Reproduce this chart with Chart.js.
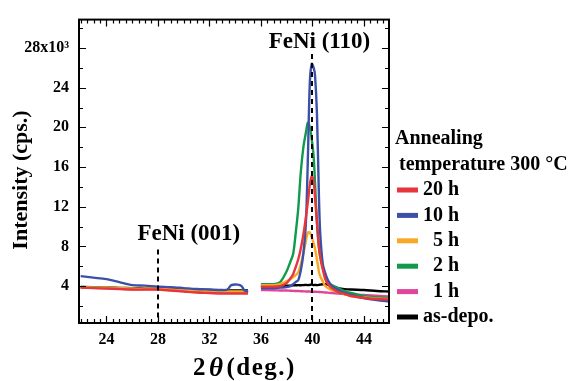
<!DOCTYPE html>
<html>
<head>
<meta charset="utf-8">
<script src="https://cdn.jsdelivr.net/npm/chart.js@4/dist/chart.umd.min.js"></script>
<style>
  html, body { margin: 0; padding: 0; background: #fff; }
  #wrap { width: 580px; height: 381px; position: relative; }
</style>
</head>
<body>
<div id="wrap"><canvas id="xrdChart"></canvas></div>
<script>
// XRD patterns of FeNi films, annealed at 300 C (intensity in 10^3 cps)

// 2theta positions (deg.), null marks the gap in the scan
const theta = [22, 23, 24, 25, 26, 27, 28, 29, 30, 31, 32, 33, 33.4, 33.7, 34.2, 34.5, 34.7, 35, 35.5,
  36, 37, 37.5, 38, 38.3, 38.5, 38.7, 38.9, 39.1, 39.3, 39.5, 39.65, 39.8, 39.95, 40.1, 40.2, 40.35,
  40.5, 40.6, 40.8, 41.0, 41.2, 41.5, 42, 42.5, 43, 44, 45, 46];

const h20 = [3.85, 3.8, 3.75, 3.7, 3.65, 3.65, 3.65, 3.55, 3.45, 3.35, 3.3, 3.25, 3.25, 3.25, 3.25, 3.25, 3.25, 3.25, null,
  3.95, 3.95, 4.0, 4.3, 4.8, 5.2, 5.9, 6.7, 7.8, 9.2, 11, 12.5, 14.2, 15.1, 14.5, 13, 10.5,
  8, 7, 5.7, 4.7, 4.2, 3.8, 3.4, 3.2, 3.0, 2.8, 2.7, 2.65];
const h10 = [5.0, 4.85, 4.7, 4.4, 4.1, 4.05, 3.95, 3.9, 3.8, 3.7, 3.65, 3.6, 3.65, 4.1, 4.15, 4.0, 3.6, 3.4, null,
  3.8, 3.8, 3.85, 3.9, 4.0, 4.2, 4.4, 4.6, 5.6, 7.3, 10.5, 17, 24.5, 26.4, 26, 25.3, 21.5,
  13.4, 9.5, 6.3, 5.3, 4.6, 4.0, 3.6, 3.3, 3.1, 2.8, 2.6, 2.45];
const h5 = [3.9, 3.85, 3.85, 3.8, 3.75, 3.75, 3.75, 3.65, 3.6, 3.55, 3.5, 3.45, 3.45, 3.45, 3.45, 3.45, 3.45, 3.45, null,
  4.1, 4.1, 4.2, 4.5, 4.7, 4.9, 5.1, 5.4, 6.2, 7.3, 8.6, 9.4, 9.4, 8.9, 8.3, 7.8, 6.7,
  5.5, 5.0, 4.5, 4.0, 3.8, 3.6, 3.4, 3.2, 3.0, 2.85, 2.75, 2.7];
const h2 = [3.95, 3.9, 3.85, 3.8, 3.7, 3.7, 3.7, 3.6, 3.55, 3.5, 3.45, 3.4, 3.4, 3.4, 3.4, 3.4, 3.4, 3.4, null,
  4.2, 4.2, 4.4, 5.5, 6.5, 7.2, 9.3, 11.8, 15.5, 18, 19.5, 20.5, 20, 18.8, 17, 14.5, 10.5,
  8.0, 7.0, 5.9, 5.1, 4.5, 4.1, 3.8, 3.5, 3.3, 3.0, 2.85, 2.78];
const h1 = [3.85, 3.82, 3.8, 3.75, 3.7, 3.72, 3.75, 3.65, 3.55, 3.45, 3.4, 3.35, 3.35, 3.35, 3.35, 3.35, 3.35, 3.35, null,
  3.6, 3.58, 3.56, 3.55, 3.53, 3.52, 3.5, 3.5, 3.48, 3.47, 3.46, 3.45, 3.45, 3.44, 3.43, 3.43, 3.42,
  3.41, 3.4, 3.38, 3.36, 3.34, 3.3, 3.25, 3.2, 3.15, 3.1, 3.02, 2.95];
const asDepo = [3.9, 3.88, 3.85, 3.82, 3.8, 3.8, 3.8, 3.75, 3.7, 3.65, 3.6, 3.55, 3.55, 3.55, 3.55, 3.55, 3.55, 3.55, null,
  4.0, 4.0, 4.02, 4.05, 4.05, 4.08, 4.08, 4.1, 4.08, 4.1, 4.12, 4.1, 4.12, 4.15, 4.1, 4.12, 4.1,
  4.12, 4.15, 4.18, 4.2, 4.15, 4.0, 3.8, 3.7, 3.65, 3.6, 3.5, 3.45];

const seriesLabels = ['20 h', '10 h', '5 h', '2 h', '1 h', 'as-depo.'];
const seriesColors = ['#e8353b', '#3c50a8', '#f9a825', '#129a4b', '#e0449b', '#000000'];
const seriesValues = [h20, h10, h5, h2, h1, asDepo];

// axis ticks
const xTicks = [24, 28, 32, 36, 40, 44];
const yTicks = [4, 8, 12, 16, 20, 24, 28];

// peak markers: position, top of dashed line, label and label centre
const peakTheta = [28, 40];
const peakLineTop = [7.7, 27.4];
const peakNames = ['FeNi (001)', 'FeNi (110)'];
const peakLabelX = [30.4, 40.55];
const peakLabelY = [9.3, 28.7];

const FONT = "'Liberation Serif', 'Times New Roman', serif";

// Build datasets, 20 h drawn on top
function buildDatasets() {
  return seriesValues.map((vals, i) => ({
    label: seriesLabels[i],
    data: theta.map((t, j) => ({ x: t, y: vals[j] })),
    borderColor: seriesColors[i],
    backgroundColor: seriesColors[i],
    borderWidth: 2.4,
    pointRadius: 0,
    tension: 0.3,
    spanGaps: false,
    order: i
  }));
}

// Frame, inward ticks, peak markers, titles and legend
const decorPlugin = {
  id: 'decor',
  afterDatasetsDraw(chart) {
    const ctx = chart.ctx;
    const a = chart.chartArea;
    const xs = chart.scales.x;
    const ys = chart.scales.y;
    ctx.save();

    // dashed peak lines
    ctx.strokeStyle = '#000';
    ctx.lineWidth = 2;
    ctx.setLineDash([5, 4]);
    peakTheta.forEach((p, i) => {
      const px = Math.round(xs.getPixelForValue(p));
      ctx.beginPath();
      ctx.moveTo(px, ys.getPixelForValue(peakLineTop[i]));
      ctx.lineTo(px, a.bottom);
      ctx.stroke();
    });
    ctx.setLineDash([]);

    // peak labels with white box
    ctx.font = 'bold 23px ' + FONT;
    ctx.textAlign = 'center';
    ctx.textBaseline = 'middle';
    peakNames.forEach((name, i) => {
      const cx = xs.getPixelForValue(peakLabelX[i]);
      const cy = ys.getPixelForValue(peakLabelY[i]);
      const w = ctx.measureText(name).width;
      ctx.fillStyle = '#fff';
      ctx.fillRect(cx - w / 2 - 2, cy - 12, w + 4, 24);
      ctx.fillStyle = '#000';
      ctx.fillText(name, cx, cy + 1);
    });

    // frame
    ctx.lineWidth = 2;
    ctx.strokeRect(a.left, a.top, a.right - a.left, a.bottom - a.top);

    // inward ticks on x (every 0.5 deg) and y (every 2k)
    ctx.lineWidth = 1.2;
    ctx.beginPath();
    for (let v = 22; v <= 45.9; v += 0.5) {
      const px = Math.round(xs.getPixelForValue(v)) + 0.5;
      const len = v % 4 === 0 ? 7 : 4;
      ctx.moveTo(px, a.bottom); ctx.lineTo(px, a.bottom - len);
      ctx.moveTo(px, a.top); ctx.lineTo(px, a.top + len);
    }
    for (let v = 2; v <= 30; v += 2) {
      const py = Math.round(ys.getPixelForValue(v)) + 0.5;
      const len = v % 4 === 0 ? 7 : 4;
      ctx.moveTo(a.left, py); ctx.lineTo(a.left + len, py);
      ctx.moveTo(a.right, py); ctx.lineTo(a.right - len, py);
    }
    ctx.stroke();
    ctx.restore();
  },
  afterDraw(chart) {
    const ctx = chart.ctx;
    const a = chart.chartArea;
    ctx.save();
    ctx.fillStyle = '#000';
    ctx.textBaseline = 'middle';

    // y title
    ctx.font = 'bold 22px ' + FONT;
    ctx.translate(21, 180);
    ctx.rotate(-Math.PI / 2);
    ctx.textAlign = 'center';
    ctx.fillText('Intensity (cps.)', 0, 0);
    ctx.setTransform(1, 0, 0, 1, 0, 0);

    // x title with italic theta
    ctx.textAlign = 'left';
    ctx.letterSpacing = '1.5px';
    const parts = [['bold 25px ' + FONT, '2'], ['bold italic 27px ' + FONT, '\u03B8'], ['bold 25px ' + FONT, '(deg.)']];
    let x = 193;
    parts.forEach(p => {
      ctx.font = p[0];
      ctx.fillText(p[1], x, 369);
      x += ctx.measureText(p[1]).width + 2;
    });
    ctx.letterSpacing = '0px';

    // legend
    ctx.font = 'bold 20px ' + FONT;
    ctx.fillText('Annealing', 395, 139);
    ctx.fillText('temperature 300 \u00B0C', 399, 165);
    const digitW = ctx.measureText('0').width;
    seriesLabels.forEach((lab, i) => {
      const y = 190 + i * 25.4;
      ctx.fillStyle = seriesColors[i];
      ctx.fillRect(397, y - 2.5, 21, 5);
      ctx.fillStyle = '#000';
      const off = /^\d h/.test(lab) ? digitW : 0;
      ctx.fillText(lab, 423 + off, y);
    });
    ctx.restore();
  }
};

function initChart() {
  const ctx = document.getElementById('xrdChart').getContext('2d');
  new Chart(ctx, {
    type: 'line',
    data: { datasets: buildDatasets() },
    plugins: [decorPlugin],
    options: {
      responsive: true,
      maintainAspectRatio: false,
      animation: false,
      layout: { padding: { left: 0, top: 13, right: 191, bottom: 0 } },
      plugins: { legend: { display: false }, tooltip: { enabled: false } },
      scales: {
        x: {
          type: 'linear',
          min: 21.87,
          max: 45.95,
          afterBuildTicks: s => { s.ticks = xTicks.map(v => ({ value: v })); },
          afterFit: s => { s.height = 58; },
          grid: { display: false, drawTicks: false },
          border: { display: false },
          ticks: { color: '#000', padding: 7, font: { family: FONT, size: 16, weight: 'bold' } }
        },
        y: {
          min: 0.28,
          max: 30.86,
          afterBuildTicks: s => { s.ticks = yTicks.map(v => ({ value: v })); },
          afterFit: s => { s.width = 79; },
          grid: { display: false, drawTicks: false },
          border: { display: false },
          ticks: {
            color: '#000',
            padding: 10,
            font: { family: FONT, size: 16, weight: 'bold' },
            callback: v => (v === 28 ? '28x10\u00B3' : String(v))
          }
        }
      }
    }
  });
}

document.addEventListener('DOMContentLoaded', initChart);
</script>
</body>
</html>
